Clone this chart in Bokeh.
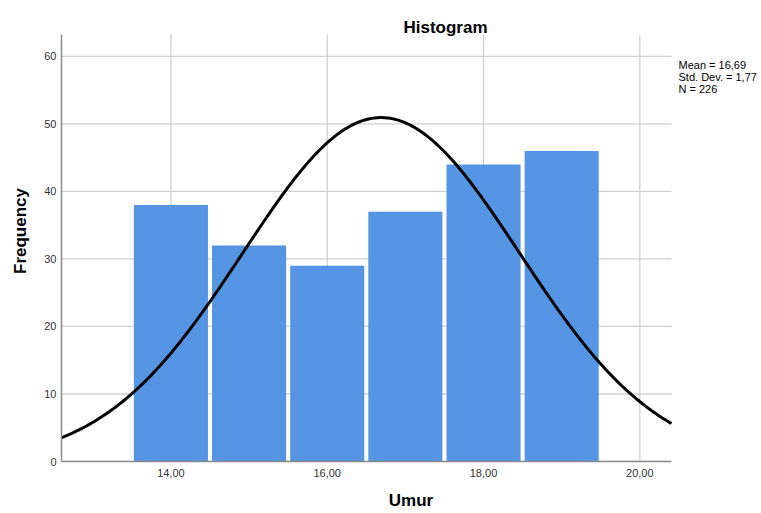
import numpy as np
from bokeh.plotting import figure
from bokeh.models import FixedTicker, Label, Range1d
from bokeh.embed import file_html
from bokeh.resources import INLINE

# ---- data ----
bin_centers = [14, 15, 16, 17, 18, 19]
frequencies = [38, 32, 29, 37, 44, 46]
bin_width = 1.0
mean_val = 16.69
std_val = 1.77
n_val = 226
x_ticks = [14, 16, 18, 20]
x_tick_labels = ["14,00", "16,00", "18,00", "20,00"]
y_ticks = [0, 10, 20, 30, 40, 50, 60]
stats_lines = ["Mean = 16,69", "Std. Dev. = 1,77", "N = 226"]
title_text = "Histogram"
x_label = "Umur"
y_label = "Frequency"

# ---- layout / style constants ----
FONT = "Liberation Sans"
X0, X1 = 12.6, 20.405       # data area shown with axes
Y0, Y1 = 0, 63.25
XR_END = 21.544             # frame extends right to hold the stats text
YR_END = 68.28              # frame extends up to hold the title
BAR_GAP = 0.052

p = figure(width=760, height=512, output_backend="svg", toolbar_location=None,
           x_range=Range1d(X0, XR_END), y_range=Range1d(Y0, YR_END),
           min_border_left=61, min_border_top=0, min_border_right=0, min_border_bottom=50)
p.outline_line_color = None
p.background_fill_color = "white"
p.border_fill_color = "white"
p.grid.visible = False

GRID_COLOR = "#d0d0d0"
# vertical grid lines
p.segment(x0=x_ticks, y0=[Y0] * len(x_ticks), x1=x_ticks, y1=[Y1] * len(x_ticks),
          line_color=GRID_COLOR, line_width=1.3)
# horizontal grid lines
p.segment(x0=[X0] * len(y_ticks), y0=y_ticks, x1=[X1] * len(y_ticks), y1=y_ticks,
          line_color=GRID_COLOR, line_width=1.3)

p.vbar(x=bin_centers, width=bin_width - BAR_GAP, bottom=0, top=frequencies,
       fill_color="#5595e3", line_color=None)

xs = np.linspace(X0, X1, 400)
ys = n_val * bin_width / (std_val * np.sqrt(2 * np.pi)) * np.exp(-0.5 * ((xs - mean_val) / std_val) ** 2)
p.line(xs, ys, line_color="black", line_width=3)

# axes
p.xaxis.ticker = FixedTicker(ticks=x_ticks)
p.xaxis.major_label_overrides = {t: l for t, l in zip(x_ticks, x_tick_labels)}
p.yaxis.ticker = FixedTicker(ticks=y_ticks)
p.xaxis.bounds = (X0, X1)
p.yaxis.bounds = (Y0, Y1)
for ax in (p.xaxis, p.yaxis):
    ax.major_tick_out = 0
    ax.major_tick_in = 0
    ax.minor_tick_out = 0
    ax.minor_tick_in = 0
    ax.axis_line_color = "#8a8a8a"
    ax.axis_line_width = 1.5
    ax.major_label_text_font = FONT
    ax.major_label_text_font_size = "11px"
    ax.major_label_text_color = "#333333"
    ax.axis_label_text_font = FONT
    ax.axis_label_text_font_size = "17px"
    ax.axis_label_text_font_style = "bold"
    ax.axis_label_text_color = "black"
p.xaxis.axis_label = x_label
p.yaxis.axis_label = y_label
p.yaxis.major_label_standoff = 5
p.yaxis.axis_label_standoff = 11
p.xaxis.major_label_standoff = 7
p.xaxis.axis_label_standoff = 11

# title
p.add_layout(Label(x=17.513, y=64.28, text=title_text, text_align="center",
                   text_baseline="alphabetic", text_font=FONT, text_font_size="17px",
                   text_font_style="bold", text_color="black"))

# stats
for i, s in enumerate(stats_lines):
    p.add_layout(Label(x=20.495, y=59.56 - i * 1.75, text=s, text_align="left",
                       text_baseline="top", text_font=FONT, text_font_size="11px",
                       text_color="black"))

open("out.html", "w").write(file_html(p, INLINE))
